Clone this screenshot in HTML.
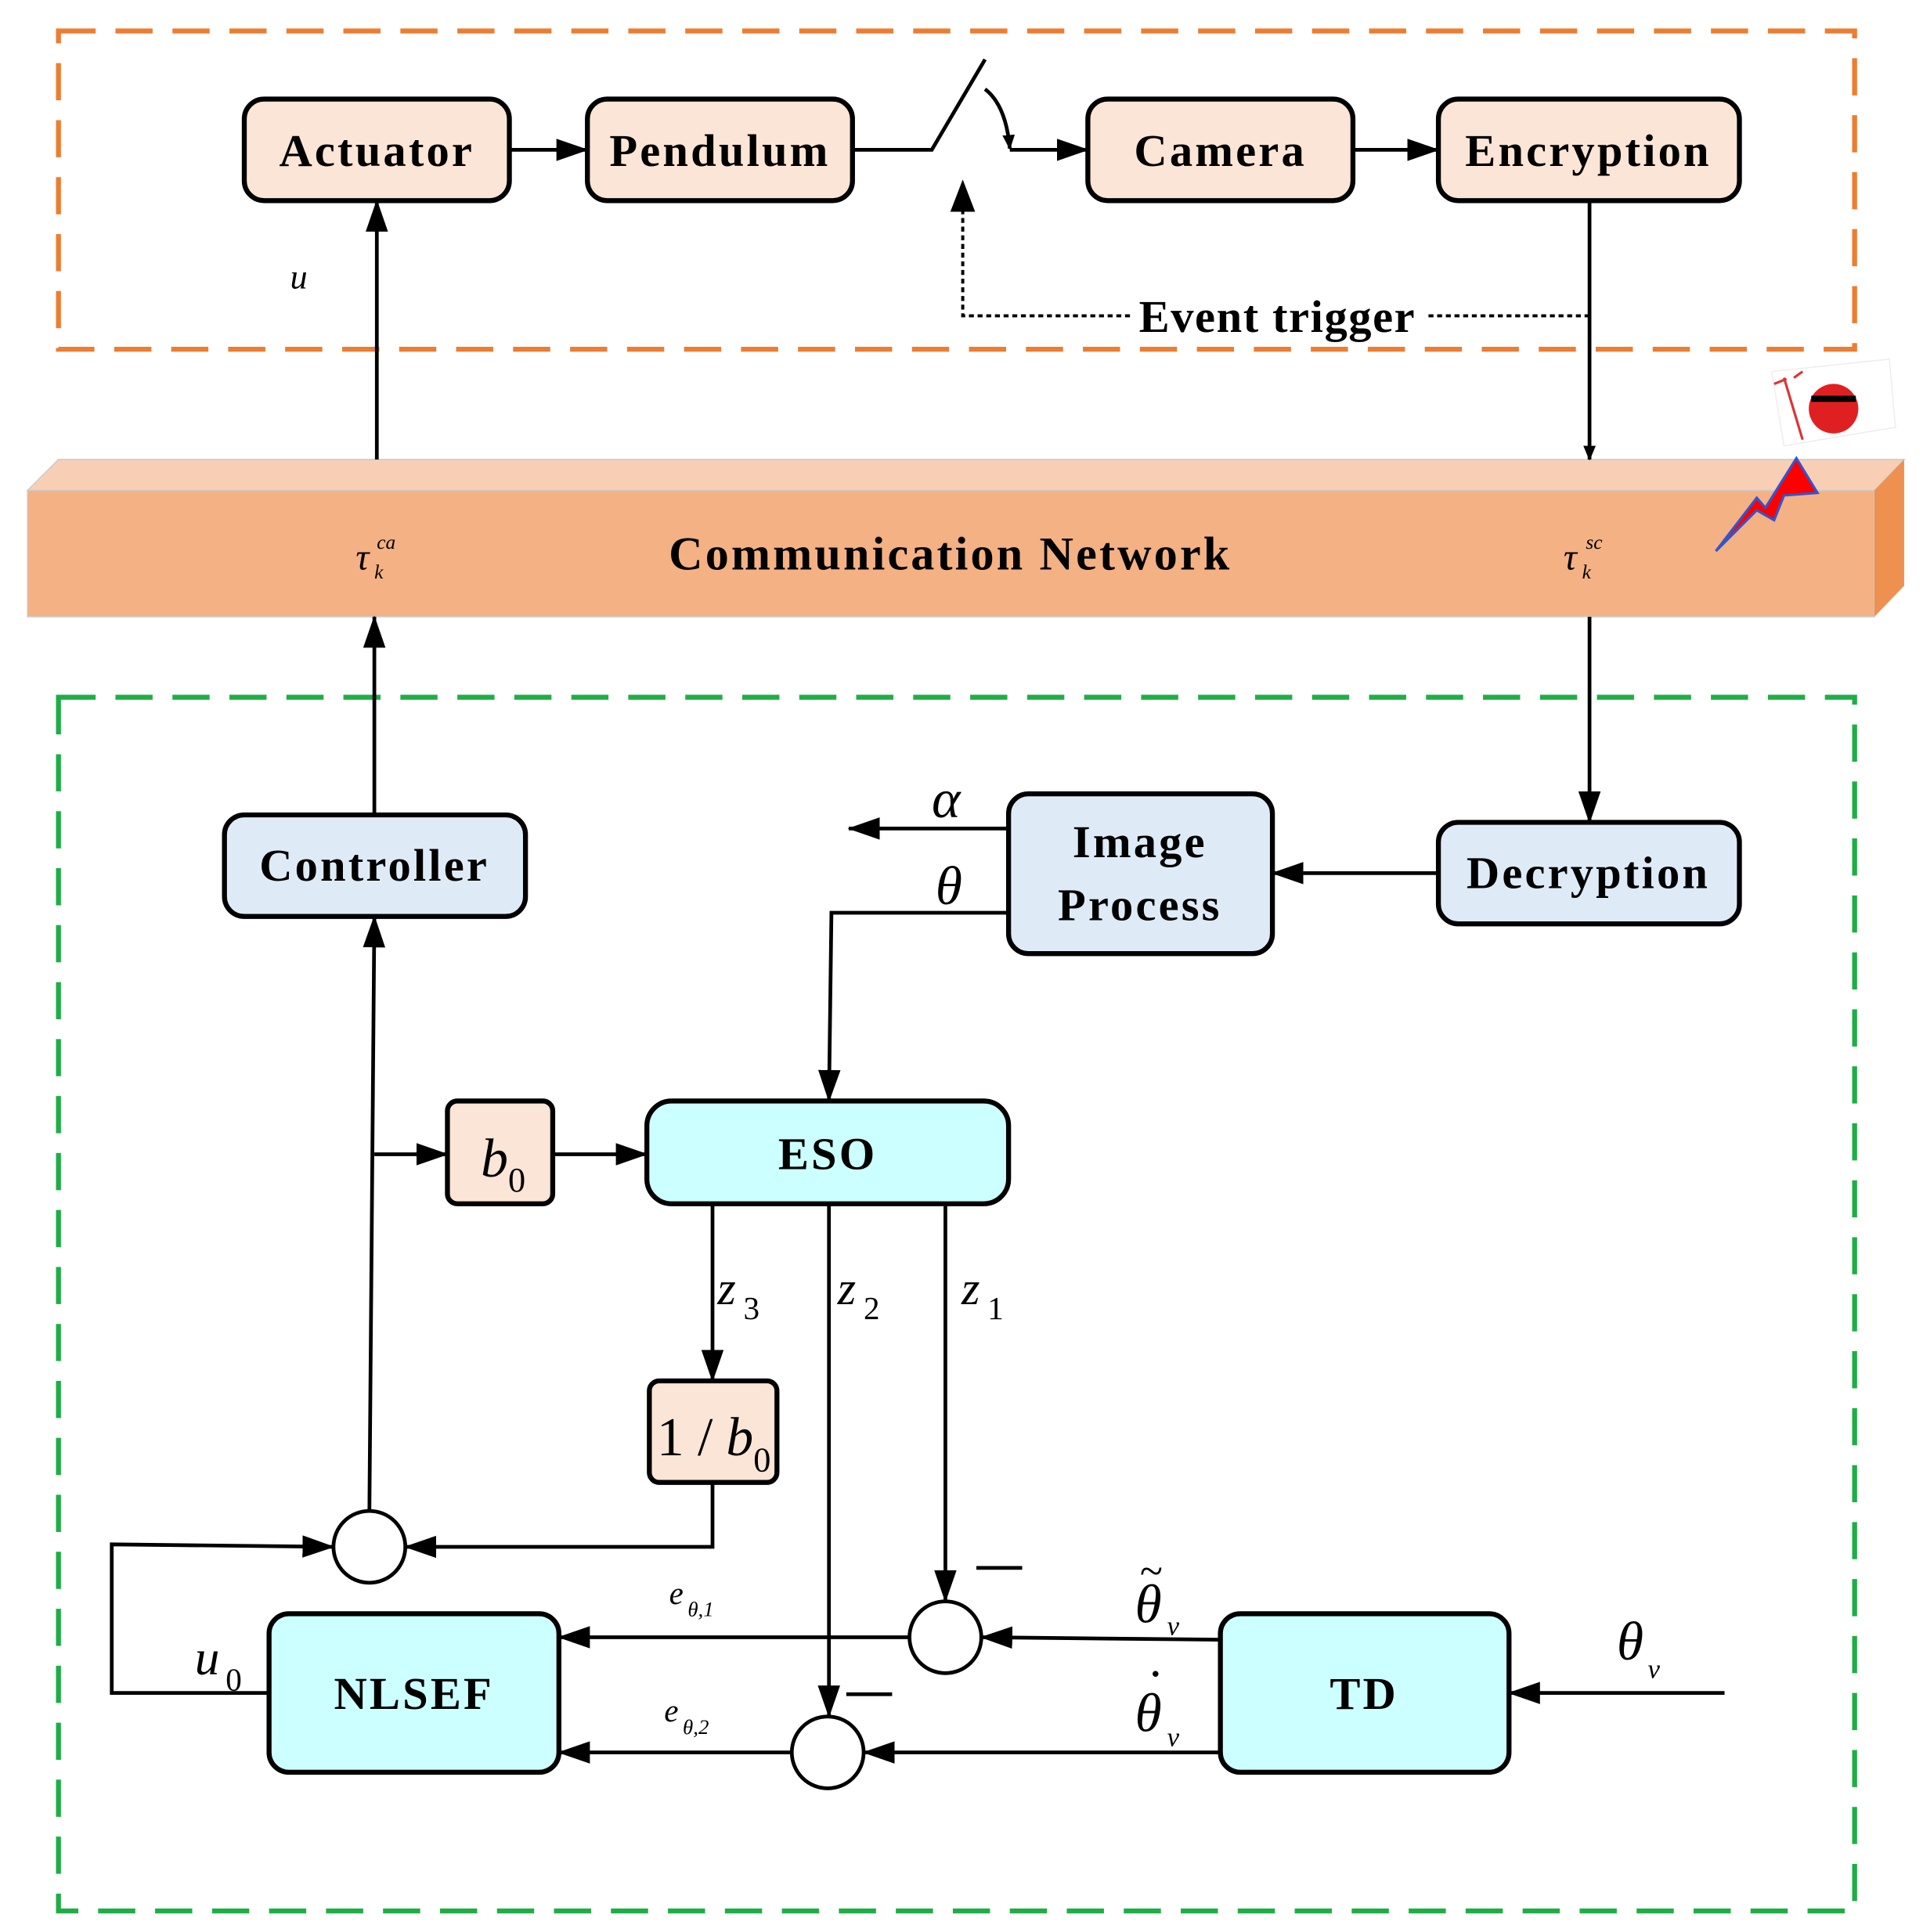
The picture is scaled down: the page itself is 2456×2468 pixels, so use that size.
<!DOCTYPE html>
<html><head><meta charset="utf-8"><style>
html,body{margin:0;padding:0;background:#fff}
svg{display:block}
text{font-family:"Liberation Serif",serif}
.b{font-weight:bold;font-size:37px;text-anchor:middle;letter-spacing:2px}
.i{font-style:italic}
</style></head><body>
<svg width="2456" height="2468" viewBox="0 0 1552 1560" xmlns="http://www.w3.org/2000/svg">
<defs>
<marker id="a" markerWidth="12" markerHeight="10" refX="11" refY="5" orient="auto" markerUnits="userSpaceOnUse" viewBox="0 0 12 10">
<path d="M0,0 L12,5 L0,10 z" fill="#000"/></marker>
<marker id="A" markerWidth="26" markerHeight="18" refX="25" refY="9" orient="auto" markerUnits="userSpaceOnUse" viewBox="0 0 26 18">
<path d="M0,0 L26,9 L0,18 z" fill="#000"/></marker>
</defs>
<rect x="47" y="25" width="1450" height="257" fill="none" stroke="#ED7D31" stroke-width="4" stroke-dasharray="30,16"/>
<rect x="47" y="563" width="1450" height="980" fill="none" stroke="#1EAE45" stroke-width="4" stroke-dasharray="30,16"/>
<polygon points="22,396 47,371 1537,371 1513,396" fill="#F8CFB5" stroke="#ccc" stroke-width="1"/>
<rect x="22" y="396" width="1491" height="102" fill="#F4B183" stroke="#ccc" stroke-width="1"/>
<polygon points="1513,396 1537,371 1537,473 1513,498" fill="#EE9050"/>
<text x="767" y="460" class="b" style="font-size:38px">Communication Network</text>
<text x="287" y="460" class="i" font-size="30">τ</text><text x="304" y="443" class="i" font-size="16">ca</text><text x="302" y="467" class="i" font-size="16">k</text>
<text x="1262" y="460" class="i" font-size="30">τ</text><text x="1280" y="443" class="i" font-size="16">sc</text><text x="1277" y="467" class="i" font-size="16">k</text>
<polygon points="1430,300 1525,290 1530,345 1440,360" fill="#fff" stroke="#eee"/>
<circle cx="1480" cy="330" r="20" fill="#E02020"/>
<path d="M1462,322 L1498,322" stroke="#000" stroke-width="5"/>
<path d="M1440,305 L1455,355 M1432,310 L1442,306 M1455,300 L1448,305" stroke="#d33" stroke-width="2" fill="none"/>
<polygon points="1385,445 1418,402 1425,410 1450,370 1467,398 1440,400 1432,420 1418,412" fill="#F00" stroke="#3355CC" stroke-width="2"/>
<g stroke="#000" stroke-width="4" fill="#FBE5D6">
<rect x="197" y="80" width="214" height="82" rx="16"/>
<rect x="474" y="80" width="214" height="82" rx="16"/>
<rect x="878" y="80" width="214" height="82" rx="16"/>
<rect x="1161" y="80" width="243" height="82" rx="16"/>
<rect x="361" y="889" width="85" height="83" rx="8"/>
<rect x="524" y="1115" width="103" height="82" rx="8"/>
</g>
<g stroke="#000" stroke-width="4" fill="#DEEBF7">
<rect x="181" y="658" width="243" height="82" rx="16"/>
<rect x="814" y="641" width="213" height="129" rx="16"/>
<rect x="1161" y="664" width="243" height="82" rx="16"/>
</g>
<g stroke="#000" stroke-width="4" fill="#CCFFFF">
<rect x="522" y="889" width="292" height="83" rx="20"/>
<rect x="217" y="1303" width="234" height="128" rx="16"/>
<rect x="985" y="1303" width="233" height="128" rx="16"/>
</g>
<g stroke="#000" stroke-width="3" fill="#fff">
<circle cx="298" cy="1249" r="29"/><circle cx="763" cy="1322" r="29"/><circle cx="668" cy="1415" r="29"/>
</g>
<text x="304" y="134" class="b">Actuator</text>
<text x="581" y="134" class="b">Pendulum</text>
<text x="985" y="134" class="b">Camera</text>
<text x="1282" y="134" class="b">Encryption</text>
<text x="302" y="711" class="b">Controller</text>
<text x="920" y="692" class="b">Image</text>
<text x="920" y="743" class="b">Process</text>
<text x="1282" y="717" class="b">Decryption</text>
<text x="668" y="944" class="b">ESO</text>
<text x="334" y="1380" class="b">NLSEF</text>
<text x="1101" y="1380" class="b">TD</text>
<text x="388" y="950" class="i" font-size="44">b</text><text x="410" y="962" font-size="28">0</text>
<text x="530" y="1175" font-size="44">1 / </text><text x="586" y="1175" class="i" font-size="44">b</text><text x="608" y="1188" font-size="28">0</text>
<g stroke="#000" stroke-width="3" fill="none">
<path d="M411,121 H474" marker-end="url(#A)"/>
<path d="M688,121 H752 L795,48"/>
<path d="M795,72 Q812,85 815,120" marker-end="url(#a)"/>
<path d="M815,121 H878" marker-end="url(#A)"/>
<path d="M1092,121 H1161" marker-end="url(#A)"/>
<path d="M1283,162 V371" marker-end="url(#a)"/>
<path d="M304,371 V162" marker-end="url(#A)"/>
<path d="M302,658 V498" marker-end="url(#A)"/>
<path d="M1283,498 V664" marker-end="url(#A)"/>
<path d="M1161,705 H1027" marker-end="url(#A)"/>
<path d="M814,669 H685" marker-end="url(#A)"/>
<path d="M814,737 H671 L669,889" marker-end="url(#A)"/>
<path d="M575,972 V1115" marker-end="url(#A)"/>
<path d="M669,972 V1386" marker-end="url(#A)"/>
<path d="M763,972 V1293" marker-end="url(#A)"/>
<path d="M302,932 H361" marker-end="url(#A)"/>
<path d="M446,932 H522" marker-end="url(#A)"/>
<path d="M298,1220 L302,740" marker-end="url(#A)"/>
<path d="M575,1197 V1249 H327" marker-end="url(#A)"/>
<path d="M217,1367 H90 V1247 L269,1249" marker-end="url(#A)"/>
<path d="M734,1322 H451" marker-end="url(#A)"/>
<path d="M985,1324 L792,1322" marker-end="url(#A)"/>
<path d="M639,1415 H451" marker-end="url(#A)"/>
<path d="M985,1415 H697" marker-end="url(#A)"/>
<path d="M1392,1367 H1218" marker-end="url(#A)"/>
<path d="M788,1266 H825 M683,1368 H720"/>
</g>
<g stroke="#000" stroke-width="2.5" fill="none" stroke-dasharray="4,3">
<path d="M1283,255 H1150 M912,255 H777 V148"/>
</g>
<path d="M777,145 l-10,26 h20 z" fill="#000"/>
<text x="1031" y="268" class="b" style="letter-spacing:1px">Event trigger</text>
<text x="234" y="233" class="i" font-size="28">u</text>
<text x="752" y="660" class="i" font-size="44">α</text>
<text x="755" y="730" class="i" font-size="44">θ</text>
<text x="579" y="1053" class="i" font-size="38">z</text><text x="600" y="1065" font-size="26">3</text>
<text x="676" y="1053" class="i" font-size="38">z</text><text x="697" y="1065" font-size="26">2</text>
<text x="776" y="1053" class="i" font-size="38">z</text><text x="797" y="1065" font-size="26">1</text>
<text x="157" y="1352" class="i" font-size="40">u</text><text x="182" y="1365" font-size="26">0</text>
<text x="540" y="1295" class="i" font-size="26">e</text><text x="555" y="1305" class="i" font-size="17">θ,1</text>
<text x="536" y="1390" class="i" font-size="26">e</text><text x="551" y="1400" class="i" font-size="17">θ,2</text>
<text x="916" y="1310" class="i" font-size="44">θ</text><text x="920" y="1280" font-size="34">~</text><text x="942" y="1320" class="i" font-size="22">v</text>
<text x="916" y="1398" class="i" font-size="44">θ</text><text x="926" y="1365" font-size="40">·</text><text x="942" y="1410" class="i" font-size="22">v</text>
<text x="1305" y="1340" class="i" font-size="44">θ</text><text x="1330" y="1355" class="i" font-size="22">v</text>
</svg>
</body></html>
